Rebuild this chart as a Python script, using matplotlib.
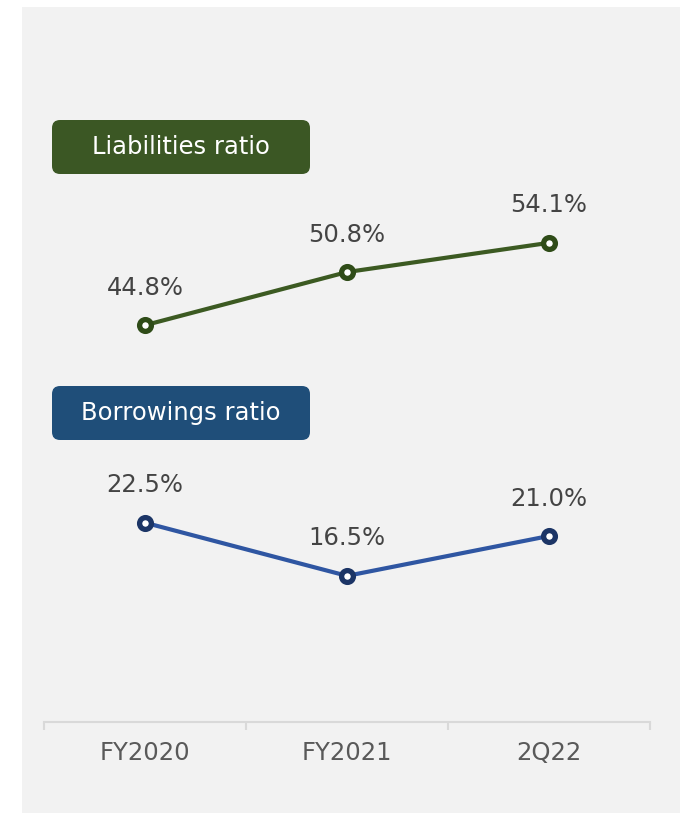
import matplotlib
matplotlib.use("Agg")
import matplotlib.pyplot as plt
from matplotlib.patches import FancyBboxPatch, Rectangle
from matplotlib.transforms import IdentityTransform

plt.rcParams['font.family'] = ['DejaVu Sans']

# Data
periods = ["FY2020", "FY2021", "2Q22"]
liabilities_ratio = [44.8, 50.8, 54.1]
borrowings_ratio = [22.5, 16.5, 21.0]
series_names = ["Liabilities ratio", "Borrowings ratio"]

W, H = 683, 815
fig = plt.figure(figsize=(W / 100, H / 100), dpi=100)
fig.patch.set_facecolor("white")

def fx(px):
    return px / W

def fy(py):
    return 1 - py / H

# light panel behind the chart
fig.add_artist(Rectangle((fx(22), fy(813)), fx(680) - fx(22), fy(7) - fy(813),
                         transform=fig.transFigure, facecolor="#f2f2f2",
                         edgecolor="none", zorder=0))

ax = fig.add_axes([fx(44), fy(722), fx(650) - fx(44), fy(102) - fy(722)])
ax.set_facecolor("none")
ax.set_xlim(-0.5, 2.5)
ax.set_ylim(0, 70)

x = list(range(len(periods)))

styles = [
    (liabilities_ratio, "#3c5a22", "#2f4c18"),
    (borrowings_ratio, "#2f56a2", "#1c3566"),
]
for values, line_c, edge_c in styles:
    ax.plot(x, values, color=line_c, lw=3.0, solid_capstyle="round", zorder=3,
            marker="o", ms=8.5, mfc="white", mec=edge_c, mew=3.8)
    for xi, v in zip(x, values):
        ax.annotate(f"{v:.1f}%", (xi, v), xytext=(0, 27), textcoords="offset points",
                    ha="center", va="center", fontsize=17.5, color="#444444", zorder=4)

# axis styling
for s in ("top", "right", "left"):
    ax.spines[s].set_visible(False)
ax.spines["bottom"].set_color("#d9d9d9")
ax.spines["bottom"].set_linewidth(1.5)
ax.set_yticks([])
ax.set_xticks(x)
ax.set_xticklabels(periods, fontsize=17.5, color="#595959")
ax.tick_params(axis="x", which="major", length=0, pad=14)
ax.set_xticks([-0.5, 0.5, 1.5, 2.5], minor=True)
ax.tick_params(axis="x", which="minor", length=6, width=1.5, color="#d9d9d9")

# series name badges (pixel coordinates, origin at bottom-left)
badges = [
    (series_names[0], 120, 174, "#3b5724"),
    (series_names[1], 386, 440, "#1f4e79"),
]
for text, top, bottom, color in badges:
    x0, x1 = 52, 310
    fig.add_artist(FancyBboxPatch((x0, H - bottom), x1 - x0, bottom - top,
                                  boxstyle="round,pad=0,rounding_size=8",
                                  transform=IdentityTransform(), facecolor=color,
                                  edgecolor="none", zorder=2))
    fig.text(fx((x0 + x1) / 2), fy((top + bottom) / 2), text, ha="center", va="center",
             fontsize=17.5, color="white", zorder=3)

fig.savefig("out.png", dpi=100)
